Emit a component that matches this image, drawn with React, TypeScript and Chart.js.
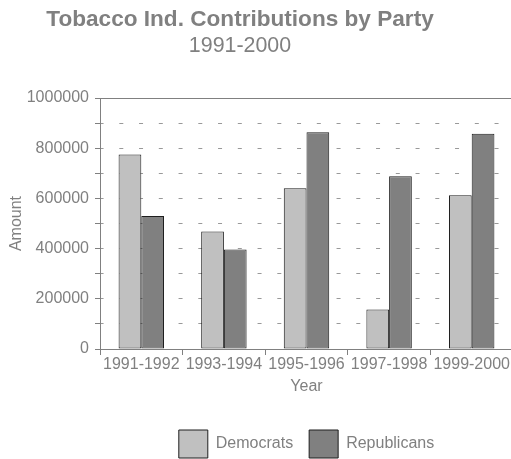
import { useEffect, useRef } from 'react';
import { Chart, registerables } from 'chart.js';

Chart.register(...registerables);

const categories = ['1991-1992', '1993-1994', '1995-1996', '1997-1998', '1999-2000'];
const democrats = [775000, 468000, 640000, 157000, 613000];
const republicans = [530000, 396000, 864000, 688000, 858000];
const seriesNames = ['Democrats', 'Republicans'];
const titleText = 'Tobacco Ind. Contributions by Party';
const subtitleText = '1991-2000';
const xTitle = 'Year';
const yTitle = 'Amount';
const yMin = 0;
const yMax = 1000000;
const yStep = 100000;
const yLabelStep = 200000;

const FONT = '"Liberation Sans", Arial, sans-serif';
const GRAY = '#808080';

const titlePlugin = {
  id: 'twoLineTitle',
  afterDraw(chart: any) {
    const ctx = chart.ctx;
    ctx.save();
    ctx.fillStyle = GRAY;
    ctx.textAlign = 'center';
    ctx.textBaseline = 'alphabetic';
    ctx.font = `bold 22.6px ${FONT}`;
    ctx.fillText(titleText, 240, 26);
    ctx.font = `21.4px ${FONT}`;
    ctx.fillText(subtitleText, 240, 52);
    ctx.restore();
  },
};

export default function App() {
  const ref = useRef<HTMLCanvasElement>(null);

  useEffect(() => {
    document.body.style.margin = '0';
    if (!ref.current) return;
    const font = { family: FONT, size: 16 };
    const chart = new Chart(ref.current, {
      type: 'bar',
      data: {
        labels: categories,
        datasets: [
          {
            label: seriesNames[0],
            data: democrats,
            backgroundColor: '#c0c0c0',
            borderColor: '#1e1e1e',
            borderWidth: 1,
            borderSkipped: false,
          },
          {
            label: seriesNames[1],
            data: republicans,
            backgroundColor: '#808080',
            borderColor: '#1e1e1e',
            borderWidth: 1,
            borderSkipped: false,
          },
        ],
      },
      plugins: [titlePlugin],
      options: {
        animation: false,
        responsive: false,
        layout: { padding: { top: 98, left: 0, right: 0, bottom: -9 } },
        datasets: { bar: { categoryPercentage: 0.55, barPercentage: 1 } },
        plugins: {
          title: { display: false },
          tooltip: { enabled: false },
          legend: {
            position: 'bottom',
            fullSize: false,
            labels: {
              boxWidth: 29,
              boxHeight: 28,
              padding: 16,
              color: GRAY,
              font,
            },
          },
        },
        scales: {
          x: {
            type: 'category',
            position: 'bottom',
            offset: true,
            grid: {
              display: true,
              drawOnChartArea: false,
              drawTicks: true,
              tickLength: 6,
              color: GRAY,
              offset: true,
            },
            border: { display: true, color: GRAY, width: 1 },
            ticks: { color: GRAY, font, padding: 0, maxRotation: 0, autoSkip: false },
            title: {
              display: true,
              text: xTitle,
              color: GRAY,
              font,
              padding: { top: 0, bottom: 18 },
            },
            afterFit: (s: any) => {
              s.height = 65;
            },
          },
          x2: {
            type: 'category',
            position: 'top',
            grid: { display: false },
            ticks: { display: false },
            border: { display: true, color: GRAY, width: 1 },
            afterFit: (s: any) => {
              s.height = 0;
            },
          },
          y: {
            min: yMin,
            max: yMax,
            ticks: {
              stepSize: yStep,
              color: GRAY,
              font,
              padding: 6,
              callback: (v: any) => (Math.round(Number(v)) % yLabelStep === 0 ? String(Math.round(Number(v))) : ''),
            },
            grid: {
              color: '#999999',
              tickLength: 5,
              tickColor: GRAY,
              drawTicks: true,
              tickBorderDash: [],
            },
            border: { display: true, color: GRAY, width: 1, dash: [4, 15.75], dashOffset: 1.45 },
            title: {
              display: true,
              text: yTitle,
              color: GRAY,
              font,
              padding: { top: 7, bottom: 0 },
            },
            afterFit: (s: any) => {
              s.width = 100;
            },
          },
        },
      } as any,
    });
    return () => chart.destroy();
  }, []);

  return (
    <div style={{ width: 511, height: 459, overflow: 'hidden', position: 'relative' }}>
      <canvas ref={ref} width={513} height={459} style={{ display: 'block' }} />
    </div>
  );
}
